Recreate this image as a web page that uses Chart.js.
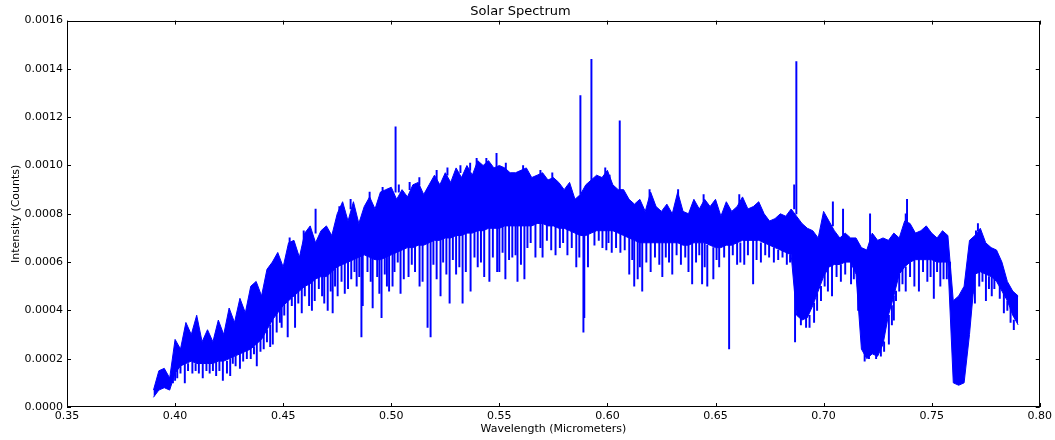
<!DOCTYPE html>
<html>
<head>
<meta charset="utf-8">
<title>Solar Spectrum</title>
<script src="https://cdn.jsdelivr.net/npm/chart.js@4.4.0/dist/chart.umd.min.js"></script>
<style>
  html, body { margin: 0; padding: 0; background: #fff; }
</style>
</head>
<body>
<canvas id="spectrum" width="1055" height="440"></canvas>
<script>
// wavelength grid (micrometers) for the continuum band
const wave = [
  0.3900, 0.3925, 0.3950, 0.3975, 0.4000, 0.4025, 0.4050, 0.4075, 0.4100, 0.4125,
  0.4150, 0.4175, 0.4200, 0.4225, 0.4250, 0.4275, 0.4300, 0.4325, 0.4350, 0.4375,
  0.4400, 0.4425, 0.4450, 0.4475, 0.4500, 0.4525, 0.4550, 0.4575, 0.4600, 0.4625,
  0.4650, 0.4675, 0.4700, 0.4725, 0.4750, 0.4775, 0.4800, 0.4825, 0.4850, 0.4875,
  0.4900, 0.4925, 0.4950, 0.4975, 0.5000, 0.5025, 0.5050, 0.5075, 0.5100, 0.5125,
  0.5150, 0.5175, 0.5200, 0.5225, 0.5250, 0.5275, 0.5300, 0.5325, 0.5350, 0.5375,
  0.5400, 0.5425, 0.5450, 0.5475, 0.5500, 0.5525, 0.5550, 0.5575, 0.5600, 0.5625,
  0.5650, 0.5675, 0.5700, 0.5725, 0.5750, 0.5775, 0.5800, 0.5825, 0.5850, 0.5875,
  0.5900, 0.5925, 0.5950, 0.5975, 0.6000, 0.6025, 0.6050, 0.6075, 0.6100, 0.6125,
  0.6150, 0.6175, 0.6200, 0.6225, 0.6250, 0.6275, 0.6300, 0.6325, 0.6350, 0.6375,
  0.6400, 0.6425, 0.6450, 0.6475, 0.6500, 0.6525, 0.6550, 0.6575, 0.6600, 0.6625,
  0.6650, 0.6675, 0.6700, 0.6725, 0.6750, 0.6775, 0.6800, 0.6825, 0.6850, 0.6875,
  0.6900, 0.6925, 0.6950, 0.6975, 0.7000, 0.7025, 0.7050, 0.7075, 0.7100, 0.7125,
  0.7150, 0.7175, 0.7200, 0.7225, 0.7250, 0.7275, 0.7300, 0.7325, 0.7350, 0.7375,
  0.7400, 0.7425, 0.7450, 0.7475, 0.7500, 0.7525, 0.7550, 0.7575, 0.7600, 0.7625,
  0.7650, 0.7675, 0.7700, 0.7725, 0.7750, 0.7775, 0.7800, 0.7825, 0.7850, 0.7875,
  0.7900
];

// top of the noisy band
const upper = [
  0.7e-4, 1.5e-4, 1.6e-4, 1.2e-4, 2.8e-4, 2.4e-4, 3.5e-4, 3.0e-4, 3.8e-4, 2.7e-4,
  3.2e-4, 2.7e-4, 3.6e-4, 3.0e-4, 4.1e-4, 3.5e-4, 4.5e-4, 3.9e-4, 5.0e-4, 5.2e-4,
  4.6e-4, 5.7e-4, 6.0e-4, 6.4e-4, 5.8e-4, 6.8e-4, 6.9e-4, 6.2e-4, 7.2e-4, 7.5e-4,
  6.8e-4, 7.3e-4, 7.5e-4, 7.1e-4, 8.0e-4, 8.5e-4, 7.7e-4, 8.5e-4, 7.6e-4, 8.3e-4,
  8.7e-4, 8.2e-4, 8.9e-4, 9.0e-4, 9.1e-4, 8.6e-4, 9.0e-4, 8.7e-4, 9.2e-4, 9.3e-4,
  8.8e-4, 9.2e-4, 9.6e-4, 9.2e-4, 9.7e-4, 9.3e-4, 9.9e-4, 9.5e-4, 10.0e-4, 9.6e-4,
  10.2e-4, 10.0e-4, 10.2e-4, 9.9e-4, 10.0e-4, 9.9e-4, 9.7e-4, 9.7e-4, 9.8e-4, 9.9e-4,
  9.5e-4, 9.6e-4, 9.7e-4, 9.4e-4, 9.5e-4, 9.3e-4, 9.0e-4, 9.3e-4, 8.6e-4, 8.8e-4,
  9.2e-4, 9.4e-4, 9.6e-4, 9.5e-4, 9.8e-4, 9.2e-4, 9.0e-4, 9.0e-4, 8.6e-4, 8.4e-4,
  8.6e-4, 8.1e-4, 8.9e-4, 8.3e-4, 8.1e-4, 8.4e-4, 8.0e-4, 8.9e-4, 8.1e-4, 8.0e-4,
  8.6e-4, 8.2e-4, 8.6e-4, 8.3e-4, 8.6e-4, 7.9e-4, 8.5e-4, 8.1e-4, 8.3e-4, 8.7e-4,
  8.2e-4, 8.3e-4, 8.5e-4, 8.0e-4, 7.7e-4, 7.8e-4, 8.0e-4, 7.9e-4, 8.2e-4, 7.9e-4,
  7.6e-4, 7.4e-4, 7.3e-4, 7.0e-4, 8.1e-4, 7.7e-4, 7.3e-4, 7.0e-4, 7.2e-4, 7.0e-4,
  7.0e-4, 6.6e-4, 6.5e-4, 7.2e-4, 6.9e-4, 7.0e-4, 6.9e-4, 7.2e-4, 7.0e-4, 7.7e-4,
  7.6e-4, 7.2e-4, 7.3e-4, 7.5e-4, 7.2e-4, 7.0e-4, 7.3e-4, 7.1e-4, 4.4e-4, 4.6e-4,
  5.0e-4, 6.9e-4, 7.1e-4, 7.4e-4, 6.8e-4, 6.6e-4, 6.5e-4, 6.0e-4, 5.2e-4, 4.8e-4,
  4.6e-4
];

// bottom of the solid part of the band
const lower = [
  0.4e-4, 0.7e-4, 0.8e-4, 0.7e-4, 1.4e-4, 1.7e-4, 1.8e-4, 1.9e-4, 1.8e-4, 1.8e-4,
  1.8e-4, 1.8e-4, 1.9e-4, 1.9e-4, 2.0e-4, 2.1e-4, 2.2e-4, 2.3e-4, 2.4e-4, 2.6e-4,
  2.8e-4, 3.2e-4, 3.6e-4, 3.9e-4, 4.2e-4, 4.4e-4, 4.6e-4, 4.8e-4, 5.0e-4, 5.1e-4,
  5.3e-4, 5.4e-4, 5.4e-4, 5.6e-4, 5.8e-4, 5.9e-4, 6.0e-4, 6.1e-4, 6.2e-4, 6.3e-4,
  6.2e-4, 6.1e-4, 6.1e-4, 6.2e-4, 6.3e-4, 6.4e-4, 6.5e-4, 6.6e-4, 6.6e-4, 6.7e-4,
  6.7e-4, 6.8e-4, 6.9e-4, 6.9e-4, 7.0e-4, 7.0e-4, 7.1e-4, 7.1e-4, 7.2e-4, 7.2e-4,
  7.3e-4, 7.3e-4, 7.4e-4, 7.4e-4, 7.4e-4, 7.5e-4, 7.5e-4, 7.5e-4, 7.5e-4, 7.5e-4,
  7.5e-4, 7.6e-4, 7.6e-4, 7.5e-4, 7.5e-4, 7.4e-4, 7.4e-4, 7.3e-4, 7.2e-4, 7.1e-4,
  7.1e-4, 7.2e-4, 7.3e-4, 7.3e-4, 7.3e-4, 7.3e-4, 7.2e-4, 7.1e-4, 7.0e-4, 6.9e-4,
  6.8e-4, 6.8e-4, 6.8e-4, 6.8e-4, 6.8e-4, 6.8e-4, 6.8e-4, 6.8e-4, 6.7e-4, 6.7e-4,
  6.8e-4, 6.8e-4, 6.8e-4, 6.7e-4, 6.6e-4, 6.6e-4, 6.7e-4, 6.7e-4, 6.8e-4, 6.9e-4,
  6.9e-4, 6.9e-4, 6.9e-4, 6.8e-4, 6.7e-4, 6.6e-4, 6.5e-4, 6.4e-4, 6.3e-4, 3.8e-4,
  3.6e-4, 3.7e-4, 4.2e-4, 4.8e-4, 5.4e-4, 5.8e-4, 5.9e-4, 5.9e-4, 6.0e-4, 6.0e-4,
  5.5e-4, 2.4e-4, 2.0e-4, 2.2e-4, 2.1e-4, 2.6e-4, 3.8e-4, 4.6e-4, 5.5e-4, 5.8e-4,
  6.0e-4, 6.1e-4, 6.1e-4, 6.1e-4, 6.1e-4, 6.0e-4, 6.0e-4, 6.0e-4, 1.0e-4, 0.9e-4,
  1.0e-4, 3.0e-4, 5.5e-4, 5.6e-4, 5.5e-4, 5.4e-4, 5.2e-4, 4.8e-4, 4.4e-4, 3.8e-4,
  3.4e-4
];

// absorption lines hanging below the band: wavelength, bottom, top
const dipWave = [
  0.3990, 0.4000, 0.4010, 0.4025, 0.4045, 0.4060, 0.4080, 0.4095, 0.4110, 0.4128,
  0.4145, 0.4160, 0.4175, 0.4190, 0.4205, 0.4221, 0.4240, 0.4255, 0.4267, 0.4280,
  0.4300, 0.4315, 0.4332, 0.4350, 0.4365, 0.4378, 0.4395, 0.4410, 0.4425, 0.4440,
  0.4452, 0.4470, 0.4485, 0.4493, 0.4505, 0.4521, 0.4540, 0.4555, 0.4570, 0.4586,
  0.4600, 0.4620, 0.4633, 0.4646, 0.4665, 0.4680, 0.4690, 0.4706, 0.4720, 0.4729,
  0.4740, 0.4752, 0.4770, 0.4785, 0.4800, 0.4815, 0.4830, 0.4840, 0.4852, 0.4862,
  0.4868, 0.4890, 0.4905, 0.4914, 0.4935, 0.4945, 0.4955, 0.4970, 0.4980, 0.4990,
  0.5006, 0.5015, 0.5030, 0.5043, 0.5058, 0.5080, 0.5095, 0.5110, 0.5131, 0.5145,
  0.5168, 0.5182, 0.5195, 0.5210, 0.5228, 0.5240, 0.5255, 0.5270, 0.5285, 0.5300,
  0.5315, 0.5330, 0.5345, 0.5367, 0.5385, 0.5400, 0.5415, 0.5430, 0.5454, 0.5470,
  0.5490, 0.5500, 0.5515, 0.5528, 0.5545, 0.5560, 0.5575, 0.5584, 0.5600, 0.5616,
  0.5630, 0.5645, 0.5667, 0.5690, 0.5700, 0.5720, 0.5740, 0.5760, 0.5780, 0.5795,
  0.5815, 0.5835, 0.5856, 0.5870, 0.5889, 0.5893, 0.5910, 0.5940, 0.5960, 0.5977,
  0.5995, 0.6005, 0.6020, 0.6040, 0.6060, 0.6080, 0.6101, 0.6115, 0.6124, 0.6140,
  0.6150, 0.6161, 0.6180, 0.6200, 0.6220, 0.6240, 0.6254, 0.6270, 0.6285, 0.6300,
  0.6320, 0.6340, 0.6360, 0.6375, 0.6392, 0.6410, 0.6425, 0.6438, 0.6450, 0.6462,
  0.6490, 0.6505, 0.6517, 0.6540, 0.6563, 0.6580, 0.6600, 0.6615, 0.6633, 0.6650,
  0.6674, 0.6690, 0.6710, 0.6730, 0.6748, 0.6770, 0.6790, 0.6810, 0.6830, 0.6845,
  0.6868, 0.6895, 0.6919, 0.6935, 0.6956, 0.6970, 0.6988, 0.7005, 0.7020, 0.7039,
  0.7060, 0.7080, 0.7100, 0.7127, 0.7140, 0.7160, 0.7190, 0.7210, 0.7243, 0.7265,
  0.7280, 0.7302, 0.7316, 0.7325, 0.7335, 0.7350, 0.7365, 0.7380, 0.7400, 0.7420,
  0.7441, 0.7460, 0.7480, 0.7495, 0.7510, 0.7525, 0.7540, 0.7555, 0.7570, 0.7585,
  0.7690, 0.7700, 0.7720, 0.7735, 0.7751, 0.7765, 0.7778, 0.7790, 0.7815, 0.7834,
  0.7850, 0.7865, 0.7880
];
const dipLow = [
  1.0e-4, 1.1e-4, 1.2e-4, 1.4e-4, 1.0e-4, 1.5e-4, 1.4e-4, 1.5e-4, 1.4e-4, 1.2e-4,
  1.5e-4, 1.4e-4, 1.5e-4, 1.3e-4, 1.5e-4, 1.1e-4, 1.4e-4, 1.3e-4, 1.8e-4, 1.7e-4,
  1.6e-4, 1.9e-4, 2.0e-4, 2.0e-4, 2.2e-4, 1.7e-4, 2.3e-4, 2.4e-4, 2.7e-4, 2.5e-4,
  2.6e-4, 3.1e-4, 3.5e-4, 3.3e-4, 3.8e-4, 2.9e-4, 4.2e-4, 3.3e-4, 4.3e-4, 3.9e-4,
  4.6e-4, 4.2e-4, 4.0e-4, 4.4e-4, 4.9e-4, 4.6e-4, 4.3e-4, 4.0e-4, 4.8e-4, 3.9e-4,
  5.0e-4, 4.6e-4, 5.2e-4, 4.7e-4, 4.9e-4, 5.3e-4, 5.6e-4, 5.0e-4, 5.4e-4, 2.9e-4,
  4.2e-4, 5.6e-4, 5.2e-4, 4.1e-4, 5.4e-4, 4.7e-4, 3.7e-4, 5.5e-4, 5.0e-4, 4.8e-4,
  5.0e-4, 5.6e-4, 6.0e-4, 4.7e-4, 5.3e-4, 5.4e-4, 5.9e-4, 5.6e-4, 5.0e-4, 5.2e-4,
  3.3e-4, 2.9e-4, 5.9e-4, 5.3e-4, 4.6e-4, 6.0e-4, 5.5e-4, 4.3e-4, 6.1e-4, 5.5e-4,
  5.8e-4, 4.3e-4, 5.6e-4, 4.8e-4, 6.2e-4, 5.8e-4, 6.0e-4, 5.4e-4, 5.2e-4, 6.2e-4,
  5.6e-4, 5.6e-4, 6.4e-4, 5.3e-4, 6.1e-4, 6.2e-4, 6.3e-4, 5.2e-4, 5.9e-4, 5.3e-4,
  6.6e-4, 6.8e-4, 6.2e-4, 6.6e-4, 6.2e-4, 6.9e-4, 6.5e-4, 6.3e-4, 6.6e-4, 6.8e-4,
  6.3e-4, 6.6e-4, 5.8e-4, 6.2e-4, 3.1e-4, 3.7e-4, 5.8e-4, 6.7e-4, 6.9e-4, 6.6e-4,
  6.5e-4, 6.8e-4, 6.4e-4, 6.6e-4, 6.4e-4, 6.5e-4, 5.5e-4, 6.1e-4, 5.0e-4, 5.3e-4,
  5.8e-4, 4.8e-4, 6.0e-4, 5.6e-4, 6.2e-4, 5.9e-4, 5.4e-4, 6.2e-4, 6.0e-4, 5.5e-4,
  6.3e-4, 5.9e-4, 6.2e-4, 5.6e-4, 5.1e-4, 6.0e-4, 6.3e-4, 5.1e-4, 5.8e-4, 5.0e-4,
  5.3e-4, 6.1e-4, 5.8e-4, 6.2e-4, 2.4e-4, 6.3e-4, 5.9e-4, 6.0e-4, 5.9e-4, 6.3e-4,
  5.1e-4, 6.1e-4, 6.0e-4, 6.3e-4, 6.2e-4, 6.0e-4, 6.1e-4, 6.2e-4, 5.9e-4, 6.0e-4,
  2.7e-4, 3.4e-4, 3.3e-4, 3.3e-4, 3.5e-4, 4.0e-4, 4.4e-4, 5.0e-4, 4.8e-4, 4.6e-4,
  5.4e-4, 5.2e-4, 5.5e-4, 5.1e-4, 5.3e-4, 4.0e-4, 1.9e-4, 2.0e-4, 2.0e-4, 2.1e-4,
  2.3e-4, 2.6e-4, 3.4e-4, 3.6e-4, 4.4e-4, 4.8e-4, 5.1e-4, 4.8e-4, 5.4e-4, 5.0e-4,
  4.8e-4, 5.6e-4, 5.2e-4, 5.4e-4, 4.5e-4, 5.6e-4, 5.0e-4, 5.3e-4, 5.3e-4, 5.5e-4,
  4.7e-4, 4.3e-4, 5.0e-4, 5.2e-4, 4.4e-4, 4.9e-4, 4.6e-4, 4.9e-4, 4.5e-4, 3.9e-4,
  4.0e-4, 3.5e-4, 3.2e-4
];
const dipHigh = [
  1.3e-4, 1.4e-4, 2.0e-4, 1.7e-4, 2.0e-4, 1.8e-4, 2.0e-4, 1.8e-4, 1.8e-4, 2.0e-4,
  1.8e-4, 2.0e-4, 1.8e-4, 2.0e-4, 1.9e-4, 2.0e-4, 1.9e-4, 2.0e-4, 2.3e-4, 2.1e-4,
  2.4e-4, 2.3e-4, 2.6e-4, 2.4e-4, 2.5e-4, 2.8e-4, 2.8e-4, 3.2e-4, 3.2e-4, 3.4e-4,
  3.8e-4, 3.9e-4, 4.1e-4, 4.4e-4, 4.3e-4, 4.8e-4, 4.5e-4, 5.0e-4, 4.8e-4, 5.2e-4,
  5.0e-4, 5.3e-4, 5.2e-4, 5.5e-4, 5.4e-4, 5.6e-4, 5.4e-4, 5.7e-4, 5.6e-4, 5.8e-4,
  5.7e-4, 6.0e-4, 5.9e-4, 6.0e-4, 6.2e-4, 6.1e-4, 6.2e-4, 6.3e-4, 6.3e-4, 6.4e-4,
  6.4e-4, 6.3e-4, 6.3e-4, 6.3e-4, 6.2e-4, 6.2e-4, 6.3e-4, 6.3e-4, 6.3e-4, 6.4e-4,
  6.5e-4, 6.5e-4, 6.6e-4, 6.7e-4, 6.7e-4, 6.8e-4, 6.9e-4, 6.9e-4, 7.0e-4, 7.0e-4,
  7.1e-4, 7.1e-4, 7.2e-4, 7.2e-4, 7.2e-4, 7.3e-4, 7.3e-4, 7.4e-4, 7.4e-4, 7.4e-4,
  7.5e-4, 7.5e-4, 7.5e-4, 7.6e-4, 7.6e-4, 7.6e-4, 7.7e-4, 7.7e-4, 7.7e-4, 7.8e-4,
  7.8e-4, 7.8e-4, 7.9e-4, 7.9e-4, 7.9e-4, 7.9e-4, 7.9e-4, 7.9e-4, 7.9e-4, 7.9e-4,
  7.9e-4, 7.9e-4, 8.0e-4, 8.0e-4, 8.0e-4, 7.9e-4, 7.8e-4, 7.8e-4, 7.7e-4, 7.7e-4,
  7.6e-4, 7.5e-4, 7.4e-4, 7.3e-4, 7.3e-4, 7.3e-4, 7.3e-4, 7.4e-4, 7.5e-4, 7.5e-4,
  7.6e-4, 7.6e-4, 7.5e-4, 7.5e-4, 7.5e-4, 7.4e-4, 7.2e-4, 7.1e-4, 7.1e-4, 7.1e-4,
  7.0e-4, 7.0e-4, 6.9e-4, 6.9e-4, 6.9e-4, 6.9e-4, 6.9e-4, 6.9e-4, 6.9e-4, 6.9e-4,
  6.9e-4, 6.8e-4, 6.8e-4, 6.8e-4, 6.8e-4, 6.8e-4, 6.8e-4, 6.8e-4, 6.8e-4, 6.7e-4,
  6.6e-4, 6.6e-4, 6.6e-4, 6.7e-4, 6.7e-4, 6.7e-4, 6.8e-4, 6.8e-4, 6.9e-4, 6.9e-4,
  6.9e-4, 6.9e-4, 6.8e-4, 6.8e-4, 6.7e-4, 6.6e-4, 6.5e-4, 6.5e-4, 6.4e-4, 6.3e-4,
  6.3e-4, 3.7e-4, 3.8e-4, 3.8e-4, 4.3e-4, 4.7e-4, 5.0e-4, 5.5e-4, 5.8e-4, 5.9e-4,
  5.9e-4, 5.9e-4, 6.0e-4, 6.0e-4, 6.0e-4, 5.0e-4, 2.3e-4, 2.1e-4, 2.3e-4, 2.6e-4,
  2.7e-4, 3.8e-4, 4.2e-4, 4.6e-4, 4.8e-4, 5.5e-4, 5.7e-4, 5.8e-4, 6.0e-4, 6.1e-4,
  6.1e-4, 6.1e-4, 6.1e-4, 6.1e-4, 6.1e-4, 6.0e-4, 6.0e-4, 6.0e-4, 6.0e-4, 6.0e-4,
  5.5e-4, 5.6e-4, 5.6e-4, 5.6e-4, 5.5e-4, 5.4e-4, 5.4e-4, 5.3e-4, 5.0e-4, 4.8e-4,
  4.4e-4, 4.1e-4, 3.6e-4
];

// narrow lines rising above the band: wavelength, bottom, top
const peakWave = [
  0.4530, 0.4595, 0.4650, 0.4760, 0.4812, 0.4900, 0.4960, 0.5020, 0.5035, 0.5085,
  0.5130, 0.5210, 0.5260, 0.5320, 0.5365, 0.5395, 0.5440, 0.5487, 0.5530, 0.5610,
  0.5690, 0.5745, 0.5875, 0.5926, 0.5990, 0.6010, 0.6057, 0.6195, 0.6327, 0.6445,
  0.6610, 0.6864, 0.6874, 0.7043, 0.7090, 0.7215, 0.7380, 0.7386, 0.7705, 0.7714
];
const peakLow = [
  6.6e-4, 6.8e-4, 7.2e-4, 7.9e-4, 8.2e-4, 8.6e-4, 8.9e-4, 8.9e-4, 8.9e-4, 9.0e-4,
  9.2e-4, 9.4e-4, 9.6e-4, 9.7e-4, 9.8e-4, 9.9e-4, 10.0e-4, 9.9e-4, 9.8e-4, 9.8e-4,
  9.6e-4, 9.4e-4, 8.8e-4, 9.4e-4, 9.6e-4, 9.4e-4, 9.0e-4, 8.5e-4, 8.6e-4, 8.3e-4,
  8.3e-4, 8.2e-4, 8.0e-4, 7.5e-4, 7.1e-4, 6.8e-4, 7.6e-4, 7.6e-4, 7.1e-4, 7.3e-4
];
const peakHigh = [
  7.0e-4, 7.3e-4, 8.2e-4, 8.3e-4, 8.6e-4, 8.9e-4, 9.1e-4, 11.6e-4, 9.2e-4, 9.3e-4,
  9.5e-4, 9.8e-4, 9.9e-4, 10.0e-4, 10.1e-4, 10.3e-4, 10.3e-4, 10.5e-4, 10.1e-4, 10.0e-4,
  9.8e-4, 9.7e-4, 12.9e-4, 14.4e-4, 9.9e-4, 9.6e-4, 11.85e-4, 9.0e-4, 9.0e-4, 8.8e-4,
  8.8e-4, 9.2e-4, 14.3e-4, 8.5e-4, 8.2e-4, 8.0e-4, 8.0e-4, 8.6e-4, 7.3e-4, 7.6e-4
];

const xTicks = [0.35, 0.40, 0.45, 0.50, 0.55, 0.60, 0.65, 0.70, 0.75, 0.80];
const yTicks = [0, 0.0002, 0.0004, 0.0006, 0.0008, 0.0010, 0.0012, 0.0014, 0.0016];

const BLUE = '#0000ff';
const FONT = 'DejaVu Sans';

// matplotlib-style frame with ticks pointing into the plot on all four sides
const frameTicks = {
  id: 'frameTicks',
  afterDraw(chart) {
    const { ctx, chartArea: a, scales: { x, y } } = chart;
    const len = 4;
    ctx.save();
    ctx.strokeStyle = '#000';
    ctx.lineWidth = 1;
    ctx.beginPath();
    xTicks.forEach(v => {
      const px = Math.round(x.getPixelForValue(v)) + 0.5;
      ctx.moveTo(px, a.bottom); ctx.lineTo(px, a.bottom - len);
      ctx.moveTo(px, a.top); ctx.lineTo(px, a.top + len);
    });
    yTicks.forEach(v => {
      const py = Math.round(y.getPixelForValue(v)) + 0.5;
      ctx.moveTo(a.left, py); ctx.lineTo(a.left + len, py);
      ctx.moveTo(a.right, py); ctx.lineTo(a.right - len, py);
    });
    ctx.stroke();
    ctx.strokeRect(Math.round(a.left) + 0.5, Math.round(a.top) + 0.5,
      Math.round(a.right - a.left) - 1, Math.round(a.bottom - a.top) - 1);
    ctx.restore();
  }
};

function lineBars(ws, lo, hi) {
  return {
    type: 'bar',
    data: ws.map((w, i) => ({ x: w, y: [lo[i], hi[i]] })),
    backgroundColor: BLUE,
    borderWidth: 0,
    barThickness: 1.3,
    grouped: false
  };
}

const ctx = document.getElementById('spectrum');

new Chart(ctx, {
  type: 'line',
  data: {
    datasets: [
      {
        label: 'band top',
        data: wave.map((w, i) => ({ x: w, y: upper[i] })),
        borderColor: BLUE,
        backgroundColor: BLUE,
        borderWidth: 1,
        pointRadius: 0,
        tension: 0,
        fill: '+1'
      },
      {
        label: 'band bottom',
        data: wave.map((w, i) => ({ x: w, y: lower[i] })),
        borderColor: BLUE,
        borderWidth: 1,
        pointRadius: 0,
        tension: 0,
        fill: false
      },
      lineBars(dipWave, dipLow, dipHigh),
      lineBars(peakWave, peakLow, peakHigh)
    ]
  },
  options: {
    responsive: false,
    animation: false,
    events: [],
    layout: { padding: { top: 0, right: 14, bottom: 0, left: 0 } },
    plugins: {
      legend: { display: false },
      tooltip: { enabled: false },
      title: {
        display: true,
        text: 'Solar Spectrum',
        color: '#000',
        font: { family: FONT, size: 13, weight: 'normal' },
        padding: { top: 4, bottom: 1 }
      }
    },
    scales: {
      x: {
        type: 'linear',
        min: 0.35,
        max: 0.80,
        offset: false,
        grid: { display: false, drawTicks: false },
        border: { display: false },
        afterFit: s => { s.height = 33; },
        afterBuildTicks: s => { s.ticks = xTicks.map(v => ({ value: v })); },
        ticks: {
          color: '#000',
          font: { family: FONT, size: 11 },
          padding: 3,
          maxRotation: 0,
          autoSkip: false,
          callback: v => v.toFixed(2)
        },
        title: {
          display: true,
          text: 'Wavelength (Micrometers)',
          color: '#000',
          font: { family: FONT, size: 11 },
          padding: { top: 0, bottom: 4 }
        }
      },
      y: {
        min: 0,
        max: 0.0016,
        grid: { display: false, drawTicks: false },
        border: { display: false },
        afterFit: s => { s.width = 67; },
        afterBuildTicks: s => { s.ticks = yTicks.map(v => ({ value: v })); },
        ticks: {
          color: '#000',
          font: { family: FONT, size: 11 },
          padding: 4,
          callback: v => v.toFixed(4)
        },
        title: {
          display: true,
          text: 'Intensity (Counts)',
          color: '#000',
          font: { family: FONT, size: 11 },
          padding: { top: 10, bottom: 0 }
        }
      }
    }
  },
  plugins: [frameTicks]
});
</script>
</body>
</html>
